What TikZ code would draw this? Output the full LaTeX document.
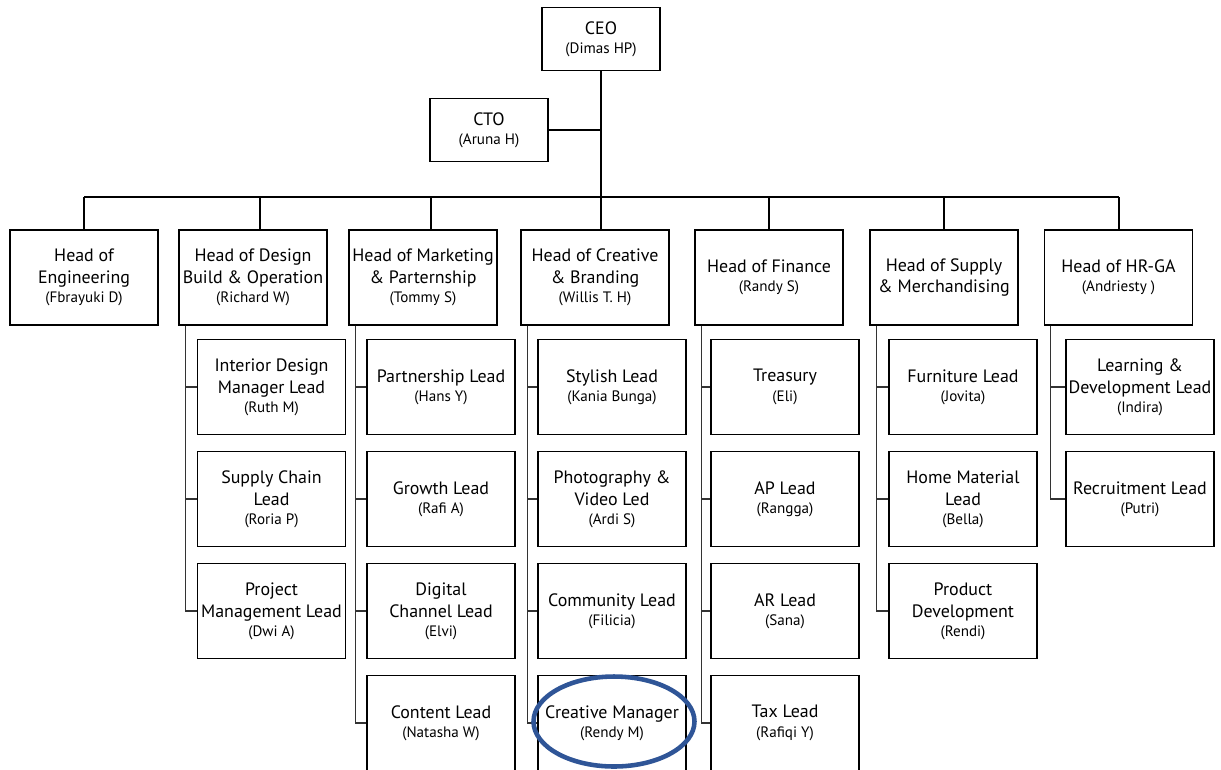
\documentclass[tikz,border=0pt]{standalone}
\usepackage{fontspec}
\setmainfont{PT Sans}
\usepackage{tikz}
\usetikzlibrary{shapes.geometric}
\usetikzlibrary{positioning}
\usetikzlibrary{calc}
\definecolor{ringblue}{HTML}{2F5597}
\tikzstyle{box}=[rectangle,draw,line width=0.7pt,minimum width=2.96cm,minimum height=1.9cm,align=center,inner sep=1pt,font=\fontsize{10.2}{12.5}\selectfont]
\tikzstyle{topbox}=[box,minimum width=2.36cm,minimum height=1.26cm]
\tikzstyle{link}=[line width=0.9pt]
\tikzstyle{branch}=[line width=0.6pt,black!80]
\newcommand*{\who}[1]{\\[-1.5pt]{\fontsize{8.6}{10}\selectfont(#1)}}

\begin{document}
\begin{tikzpicture}[x=0.02cm,y=-0.02cm]
\useasboundingbox (0,0) rectangle (1221,769);

%top
\node[topbox] (ceo) at (601,39) {CEO\who{Dimas HP}};
\node[topbox] (cto) at (489,130) {CTO\who{Aruna H}};
\coordinate (bus) at (601,197);

%heads
\node[box] (eng) at (84,277.5) {Head of\\Engineering\who{Fbrayuki D}};
\node[box] (des) at (253,277.5) {Head of Design\\Build \& Operation\who{Richard W}};
\node[box] (mkt) at (423,277.5) {Head of Marketing\\\& Parternship\who{Tommy S}};
\node[box] (cre) at (595,277.5) {Head of Creative\\\& Branding\who{Willis T. H}};
\node[box] (fin) at (769,277.5) {Head of Finance\who{Randy S}};
\node[box] (sup) at (944,277.5) {Head of Supply\\\& Merchandising};
\node[box] (hr) at (1118.5,277.5) {Head of HR-GA\who{Andriesty\ }};

%design
\node[box] (d1) at (271.5,387) {Interior Design\\Manager Lead\who{Ruth M}};
\node[box] (d2) at (271.5,499) {Supply Chain\\Lead\who{Roria P}};
\node[box] (d3) at (271.5,611) {Project\\Management Lead\who{Dwi A}};

%marketing
\node[box] (m1) at (441,387) {Partnership Lead\who{Hans Y}};
\node[box] (m2) at (441,499) {Growth Lead\who{Rafi A}};
\node[box] (m3) at (441,611) {Digital\\Channel Lead\who{Elvi}};
\node[box] (m4) at (441,723) {Content Lead\who{Natasha W}};

%creative
\node[box] (c1) at (612,387) {Stylish Lead\who{Kania Bunga}};
\node[box] (c2) at (612,499) {Photography \&\\Video Led\who{Ardi S}};
\node[box] (c3) at (612,611) {Community Lead\who{Filicia}};
\node[box] (c4) at (612,723) {Creative Manager\who{Rendy M}};

%finance
\node[box] (f1) at (785,387) {Treasury\who{Eli}};
\node[box] (f2) at (785,499) {AP Lead\who{Rangga}};
\node[box] (f3) at (785,611) {AR Lead\who{Sana}};
\node[box] (f4) at (785,723) {Tax Lead\who{Rafiqi Y}};

%supply
\node[box] (s1) at (963,387) {Furniture Lead\who{Jovita}};
\node[box] (s2) at (963,499) {Home Material\\Lead\who{Bella}};
\node[box] (s3) at (963,611) {Product\\Development\who{Rendi}};

%hr
\node[box] (h1) at (1140,387) {Learning \&\\Development Lead\who{Indira}};
\node[box] (h2) at (1140,499) {Recruitment Lead\who{Putri}};

%lines
\draw[link] (ceo.south) -- (bus);
\draw[link] (cto.east) -- (cto.east -| ceo.south);
\draw[link] (84,197) -- (1119,197);
\foreach \h/\x in {eng/84,des/260,mkt/431,cre/601,fin/769,sup/944,hr/1119} {
  \path (\x,197) coordinate (drop);
  \draw[link] (drop) -- (drop |- \h.north);
}
\foreach \h/\s in {des/d1,des/d2,des/d3,mkt/m1,mkt/m2,mkt/m3,mkt/m4,cre/c1,cre/c2,cre/c3,cre/c4,fin/f1,fin/f2,fin/f3,fin/f4,sup/s1,sup/s2,sup/s3,hr/h1,hr/h2} {
  \draw[branch] ([xshift=0.14cm]\h.south west) |- (\s.west);
}

%ring
\node[ellipse,draw=ringblue,line width=2.6pt,minimum width=3.22cm,minimum height=1.8cm] (ring) at (614,721.5) {};
\end{tikzpicture}
\end{document}
